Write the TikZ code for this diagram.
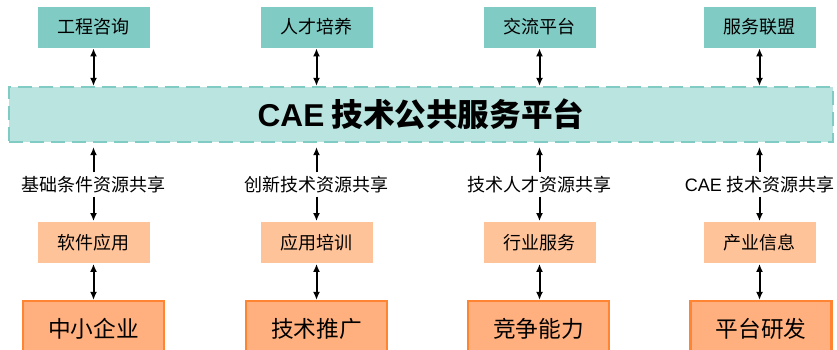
\documentclass[tikz,border=0pt]{standalone}
\usepackage{fontspec}
\setmainfont{Noto Sans CJK SC}
\newfontfamily\lat{Liberation Sans}
\usetikzlibrary{arrows.meta}
\definecolor{teal1}{HTML}{80CBC4}
\definecolor{teal2}{HTML}{B9E4DF}
\definecolor{peach}{HTML}{FFC39A}
\definecolor{orfill}{HTML}{FFB07E}
\definecolor{ordraw}{HTML}{FF8533}
\tikzset{
  topbox/.style={fill=teal1, draw=white, line width=0.8pt, minimum width=113pt, minimum height=42pt, inner sep=0pt, font=\fontsize{18}{20}\selectfont},
  midbox/.style={fill=peach, draw=white, line width=0.8pt, minimum width=113pt, minimum height=42pt, inner sep=0pt, font=\fontsize{18}{20}\selectfont},
  botbox/.style={fill=orfill, draw=ordraw, line width=2.2pt, minimum width=141pt, minimum height=56pt, inner sep=0pt, font=\fontsize{22.7}{25}\selectfont},
  lbl/.style={inner sep=0pt, minimum height=24pt, font=\fontsize{18}{19}\selectfont},
  conn/.style={line width=2pt, -{Latex[length=8pt,width=7pt]}},
  dconn/.style={line width=2pt, {Latex[length=8pt,width=7pt]}-{Latex[length=8pt,width=7pt]}},
}
\begin{document}
\begin{tikzpicture}[x=1pt,y=-1pt]
\useasboundingbox (0,0) rectangle (837,349);
\node[fill=teal2, draw=teal1, line width=2.2pt, dash pattern=on 14pt off 7pt, minimum width=824pt, minimum height=55pt, inner sep=0pt] (plat) at (421,114.5) {\bfseries\fontsize{31.6}{34}\selectfont{\lat CAE} 技术公共服务平台};
\foreach \i/\x/\ta/\la/\ma in {1/93.5/工程咨询/基础条件资源共享/软件应用, 2/316.5/人才培养/创新技术资源共享/应用培训, 3/539.5/交流平台/技术人才资源共享/行业服务, 4/759.5/服务联盟/{{\lat CAE} 技术资源共享}/产业信息}{
  \node[topbox] (t\i) at (\x,27) {\ta};
  \node[lbl] (l\i) at (\x,184.5) {\la};
  \node[midbox] (m\i) at (\x,242.5) {\ma};
}
\node[botbox] (b1) at (93.5,329) {中小企业};
\node[botbox] (b2) at (316.5,329) {技术推广};
\node[botbox] (b3) at (538.5,329) {竞争能力};
\node[botbox] (b4) at (761,329) {平台研发};
\foreach \i in {1,2,3,4}{
  \draw[dconn] (t\i.south) -- (t\i.south |- plat.north);
  \draw[conn, shorten >=4pt] (l\i.north) -- (l\i.north |- plat.south);
  \draw[conn] (l\i.south) -- (m\i.north);
  \draw[dconn] (m\i.south) -- (m\i.south |- b\i.north);
}
\end{tikzpicture}
\end{document}
